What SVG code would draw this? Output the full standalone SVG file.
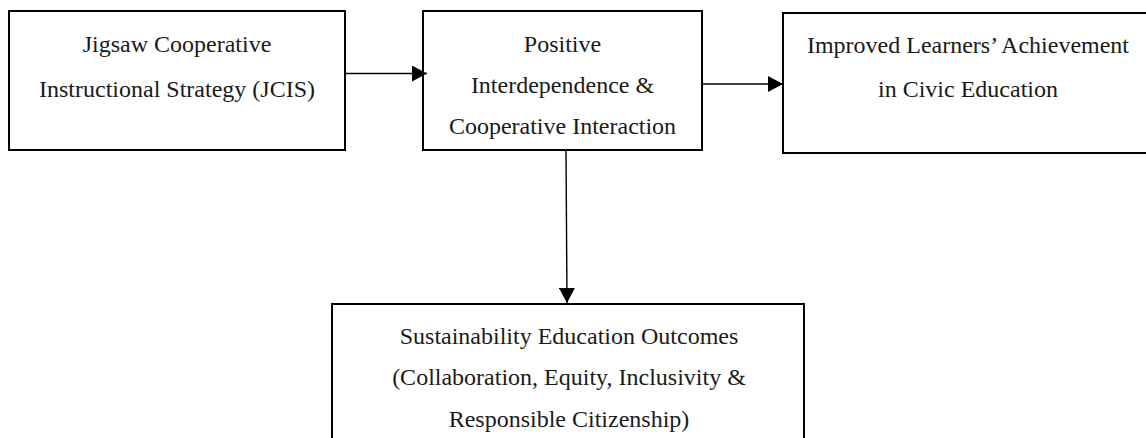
<svg xmlns="http://www.w3.org/2000/svg" width="1146" height="438" viewBox="0 0 1146 438">
<style>
.box{fill:#fff;stroke:#000;stroke-width:2}
.t{font-family:"Liberation Serif","Times New Roman",serif;font-size:24px;fill:#1a1a1a;text-anchor:middle}
.edge{stroke:#000;stroke-width:1.4;fill:none}
</style>
<defs>
<marker id="ah" markerUnits="userSpaceOnUse" markerWidth="15" markerHeight="16" refX="15" refY="8" orient="auto">
<path d="M0,0 L15,8 L0,16 Z" fill="#000"/>
</marker>
</defs>
<rect width="1146" height="438" fill="#fff"/>
<g id="n1">
<rect class="box" x="9" y="11" width="336" height="139"/>
<text class="t" x="177" y="52">Jigsaw Cooperative</text>
<text class="t" x="177" y="97">Instructional Strategy (JCIS)</text>
</g>
<g id="n2">
<rect class="box" x="423" y="11" width="279" height="139"/>
<text class="t" x="562.5" y="52">Positive</text>
<text class="t" x="562.5" y="93">Interdependence &amp;</text>
<text class="t" x="562.5" y="134">Cooperative Interaction</text>
</g>
<g id="n3">
<rect class="box" x="783" y="13" width="380" height="140"/>
<text class="t" x="968" y="53">Improved Learners’ Achievement</text>
<text class="t" x="968" y="97">in Civic Education</text>
</g>
<g id="n4">
<rect class="box" x="332" y="304" width="472" height="200"/>
<text class="t" x="569" y="344">Sustainability Education Outcomes</text>
<text class="t" x="569" y="385">(Collaboration, Equity, Inclusivity &amp;</text>
<text class="t" x="569" y="427">Responsible Citizenship)</text>
</g>
<g id="connectors">
<line class="edge" x1="346" y1="73.5" x2="427" y2="73.5" marker-end="url(#ah)"/>
<line class="edge" x1="703" y1="84" x2="783" y2="84" marker-end="url(#ah)"/>
<line class="edge" x1="566" y1="151" x2="567" y2="303" marker-end="url(#ah)"/>
</g>
</svg>
